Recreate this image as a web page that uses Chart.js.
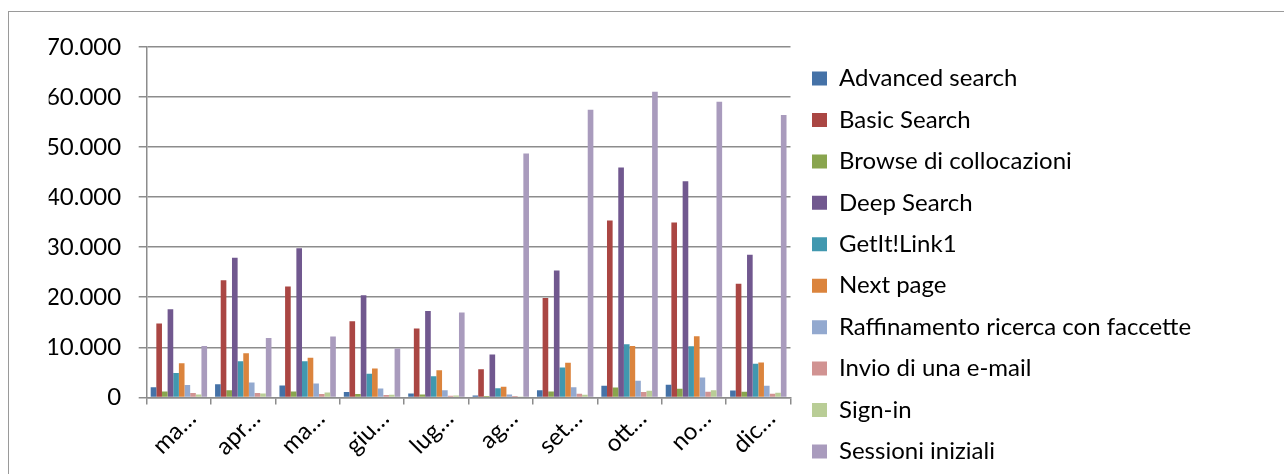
<!DOCTYPE html>
<html>
<head>
<meta charset="utf-8">
<script src="https://cdn.jsdelivr.net/npm/chart.js@4/dist/chart.umd.min.js"></script>
<style>
  html, body { margin: 0; padding: 0; background: #fff; }
  #wrap { position: relative; width: 1284px; height: 474px; overflow: hidden; }
  #frame { position: absolute; left: 8px; top: 11px; width: 1400px; height: 600px;
           border-left: 1px solid #9a9a9a; border-top: 1px solid #9a9a9a; pointer-events: none; }
  canvas { display: block; }
</style>
</head>
<body>
<div id="wrap">
  <canvas id="c" width="1284" height="474"></canvas>
  <div id="frame"></div>
</div>
<script>
const categories = ['ma…', 'apr…', 'ma…', 'giu…', 'lug…', 'ag…', 'set…', 'ott…', 'no…', 'dic…'];
const yTickLabels = ['0', '10.000', '20.000', '30.000', '40.000', '50.000', '60.000', '70.000'];

const seriesNames = ['Advanced search', 'Basic Search', 'Browse di collocazioni', 'Deep Search', 'GetIt!Link1',
  'Next page', 'Raffinamento ricerca con faccette', 'Invio di una e-mail', 'Sign-in', 'Sessioni iniziali'];

const advancedSearch     = [2050, 2650, 2390, 1060, 800, 400, 1450, 2310, 2510, 1390];
const basicSearch        = [14740, 23370, 22120, 15200, 13750, 5640, 19850, 35330, 34930, 22710];
const browseCollocazioni = [1200, 1450, 1200, 660, 600, 260, 1200, 1990, 1710, 1120];
const deepSearch         = [17600, 27900, 29800, 20380, 17260, 8570, 25360, 45890, 43160, 28490];
const getItLink1         = [4850, 7230, 7230, 4700, 4240, 1850, 5980, 10620, 10220, 6700];
const nextPage           = [6830, 8830, 7900, 5780, 5440, 2110, 6900, 10280, 12210, 6970];
const raffinamento       = [2500, 2990, 2790, 1790, 1450, 600, 2050, 3310, 3990, 2310];
const invioEmail         = [860, 860, 660, 460, 320, 260, 720, 1060, 1120, 720];
const signIn             = [600, 800, 1000, 520, 400, 100, 520, 1320, 1450, 920];
const sessioniIniziali   = [10280, 11880, 12150, 9760, 16940, 48680, 57440, 61030, 59040, 56390];

const seriesValues = [advancedSearch, basicSearch, browseCollocazioni, deepSearch, getItLink1,
  nextPage, raffinamento, invioEmail, signIn, sessioniIniziali];
const seriesColors = ['#4572A7', '#AA4643', '#89A54E', '#71588F', '#4198AF',
  '#DB843D', '#93A9CF', '#D19392', '#B9CD96', '#A99BBD'];

const FONT = 'Lato, "Open Sans", sans-serif';
const FS = 24;
const GRID = '#8c8c8c';

const legendTweak = {
  id: 'legendTweak',
  beforeInit(chart) {
    const lg = chart.legend;
    const orig = lg.fit;
    lg.fit = function () { orig.call(this); this.width = 1284 - 790.5; };
  },
  afterLayout(chart) {
    const lg = chart.legend;
    const P = lg.options.labels.padding;
    lg.left = 812 - P;
    lg.right = 1284;
    lg.top = 66.5 - P;
    lg.bottom = 2000;
  }
};

new Chart(document.getElementById('c'), {
  type: 'bar',
  data: {
    labels: categories,
    datasets: seriesNames.map((name, i) => ({
      label: name,
      data: seriesValues[i],
      backgroundColor: seriesColors[i],
      borderWidth: 0,
      categoryPercentage: 0.876,
      barPercentage: 1.0
    }))
  },
  options: {
    responsive: false,
    animation: false,
    devicePixelRatio: 1,
    layout: { padding: { left: 48.7, top: 46.8, right: 0, bottom: 0 } },
    plugins: {
      tooltip: { enabled: false },
      legend: {
        position: 'right',
        align: 'start',
        labels: {
          boxWidth: 15,
          boxHeight: 14,
          padding: 41.44 - FS,
          color: '#000',
          font: { family: FONT, size: FS }
        }
      }
    },
    scales: {
      x: {
        afterFit(s) { s.height = 474 - 397.4; },
        grid: { offset: true, drawOnChartArea: false, drawTicks: true, tickLength: 7, color: GRID, lineWidth: 1.5 },
        border: { display: true, color: GRID, width: 1.5 },
        ticks: {
          autoSkip: false, minRotation: 45, maxRotation: 45,
          color: '#000', font: { family: FONT, size: FS }, padding: 0, labelOffset: 13
        }
      },
      y: {
        min: 0, max: 70000,
        afterFit(s) { s.width = 98; },
        grid: { color: GRID, lineWidth: 1.5, tickLength: 8, drawTicks: true },
        border: { display: true, color: GRID, width: 1.5 },
        ticks: {
          stepSize: 10000,
          color: '#000',
          padding: 17.5,
          font: { family: FONT, size: FS },
          callback: (v) => yTickLabels[Math.round(v / 10000)]
        }
      }
    }
  },
  plugins: [legendTweak]
});
</script>
</body>
</html>
